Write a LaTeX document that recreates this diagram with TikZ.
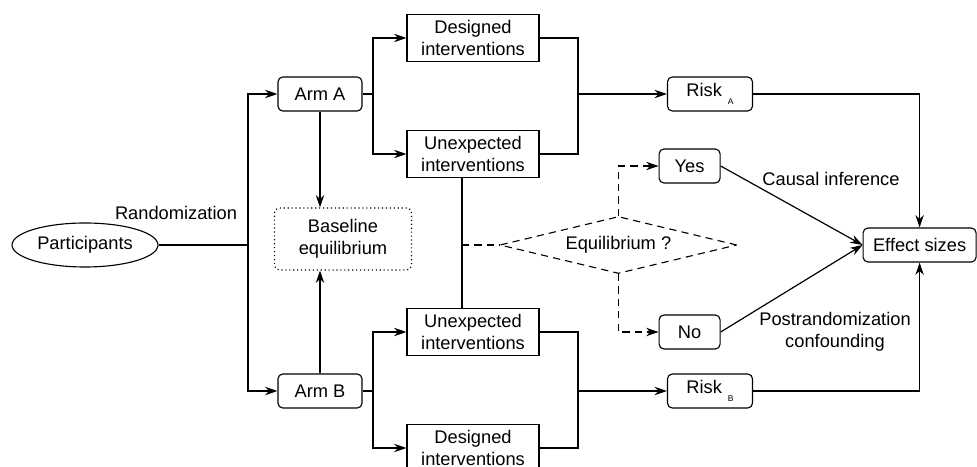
\documentclass[tikz,border=0pt]{standalone}
\usepackage{fontspec}
\setmainfont{Liberation Sans}
\usetikzlibrary{arrows.meta,shapes.geometric}
\tikzset{
	box/.style={draw, line width=0.28mm, minimum height=0.85cm, inner sep=0pt, align=center},
	rbox/.style={box, rounded corners=1.2mm},
	ibox/.style={box, minimum width=3.3cm, minimum height=1.175cm},
	wire/.style={line width=0.3mm},
	link/.style={wire, -{Stealth[length=3.1mm,width=2.1mm]}},
	dashes/.style={dash pattern=on 1.8mm off 1.3mm},
}
\def\risksub#1{\hspace{0.15cm}\raisebox{-0.8ex}{\fontsize{6}{7}\selectfont #1}}

\begin{document}
\begin{tikzpicture}[font=\fontsize{13}{15.6}\selectfont]
			%%%%% START %%%%%
			\clip (0, 0) rectangle (24.425, -11.675);
			
			\node[draw, ellipse, line width=0.28mm, inner sep=0pt, minimum width=3.65cm, minimum height=1.1cm] (part) at (2.125, -6.125) {Participants};
			\node (rand) at (4.4, -5.325) {Randomization};
			
			\node[rbox, minimum width=2.1cm] (armA) at (8.0, -2.35) {Arm A};
			\node[rbox, minimum width=2.1cm] (armB) at (8.0, -9.775) {Arm B};
			\node[rbox, dotted, minimum width=3.425cm, minimum height=1.55cm] (base) at (8.575, -5.975) {Baseline\\equilibrium};
			
			\node[ibox] (desA) at (11.825, -0.95) {Designed\\interventions};
			\node[ibox] (unxA) at (11.825, -3.85) {Unexpected\\interventions};
			\node[ibox] (unxB) at (11.825, -8.3) {Unexpected\\interventions};
			\node[ibox] (desB) at (11.825, -11.2) {Designed\\interventions};
			
			\node[draw, diamond, dashes, line width=0.28mm, inner sep=0pt, aspect=4, minimum width=5.925cm, minimum height=1.425cm] (eq) at (15.46, -6.125) {Equilibrium ?};
			
			\node[rbox, minimum width=1.525cm] (yes) at (17.24, -4.15) {Yes};
			\node[rbox, minimum width=1.525cm] (no) at (17.24, -8.3) {No};
			\node[rbox, minimum width=2.125cm] (riskA) at (17.75, -2.35) {Risk\risksub{A}};
			\node[rbox, minimum width=2.125cm] (riskB) at (17.75, -9.775) {Risk\risksub{B}};
			\node[rbox, minimum width=2.825cm] (eff) at (22.99, -6.125) {Effect sizes};
			
			\node (causal) at (20.775, -4.475) {Causal inference};
			\node[align=center] (conf) at (20.875, -8.3) {Postrandomization\\confounding};
			
			% randomization
			\coordinate (trunk) at (6.2, -6.125);
			\draw[wire] (part.east) -- (trunk);
			\draw[link] (trunk) |- (armA.west);
			\draw[link] (trunk) |- (armB.west);
			\draw[link] (armA.south) -- (armA.south |- base.north);
			\draw[link] (armB.north) -- (armB.north |- base.south);
			
			% arm A
			\coordinate (splitA) at (9.325, -2.35);
			\coordinate (joinA) at (14.45, -2.35);
			\draw[wire] (armA.east) -- (splitA);
			\draw[link] (splitA) |- (desA.west);
			\draw[link] (splitA) |- (unxA.west);
			\draw[wire] (desA.east) -| (joinA);
			\draw[wire] (unxA.east) -| (joinA);
			\draw[link] (joinA) -- (riskA.west);
			
			% arm B
			\coordinate (splitB) at (9.325, -9.775);
			\coordinate (joinB) at (14.45, -9.775);
			\draw[wire] (armB.east) -- (splitB);
			\draw[link] (splitB) |- (unxB.west);
			\draw[link] (splitB) |- (desB.west);
			\draw[wire] (unxB.east) -| (joinB);
			\draw[wire] (desB.east) -| (joinB);
			\draw[link] (joinB) -- (riskB.west);
			
			% equilibrium check
			\coordinate (tap) at (11.55, -6.125);
			\draw[wire] (unxA.south -| tap) -- (unxB.north -| tap);
			\draw[wire, dashes] (tap) -- (eq.west);
			\draw[link, dashes] (eq.north) |- (yes.west);
			\draw[link, dashes] (eq.south) |- (no.west);
			
			\draw[link] (yes.east) -- (eff.west);
			\draw[link] (no.east) -- (eff.west);
			\draw[link] (riskA.east) -| (eff.north);
			\draw[link] (riskB.east) -| (eff.south);
			
			%%%%% END %%%%%
		\end{tikzpicture}
\end{document}
